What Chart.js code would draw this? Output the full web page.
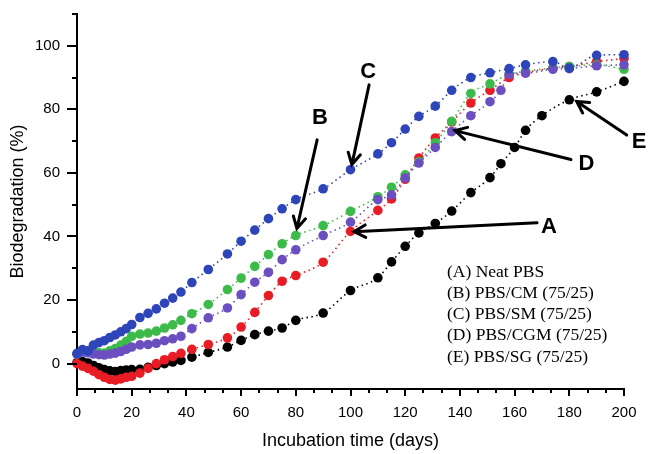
<!DOCTYPE html>
<html>
<head>
<meta charset="utf-8">
<script src="https://cdn.jsdelivr.net/npm/chart.js@4"></script>
<style>
  html, body { margin: 0; padding: 0; background: #fff; }
</style>
</head>
<body>
<canvas id="chart" width="649" height="454"></canvas>
<script>
// ---------- Data ----------
const days = [0, 2, 4, 6, 8, 10, 12, 14, 16, 18, 20, 23, 26, 29, 32, 35, 38, 42, 48, 55,
  60, 65, 70, 75, 80, 90, 100, 110, 115, 120, 125, 131, 137, 144, 151, 158, 164, 174, 180, 190, 200];
const daysD = [0, 2, 4, 6, 8, 10, 12, 14, 16, 18, 20, 23, 26, 29, 32, 35, 38, 42, 48, 55,
  60, 65, 70, 75, 80, 90, 100, 110, 115, 120, 125, 131, 137, 144, 151, 155, 158, 164, 174, 180, 190, 200];
const daysE = [0, 2, 4, 6, 8, 10, 12, 14, 16, 18, 20, 23, 26, 29, 32, 35, 38, 42, 48, 55,
  60, 65, 70, 75, 80, 90, 100, 110, 115, 120, 125, 131, 137, 144, 151, 155, 160, 164, 170, 180, 190, 200];

// (A) Neat PBS
const neatPBS = [0, -0.8, -1.5, -2.4, -3.5, -4.3, -5, -5.2, -4.8, -4.3, -4, -3, -1.5, 0, 1.2, 2.2, 3.2, 4.5, 6, 8.1,
  11.5, 16.1, 21.4, 25.9, 27.7, 31.9, 41.6, 48.2, 51.8, 58, 64.7, 71, 76, 82, 86, 90, 91.5, 93, 93.5, 95, 96];
// (B) PBS/CM
const pbsCM = [3, 3.8, 3.5, 3.6, 3.4, 3.3, 4, 4.7, 5.8, 7, 8.6, 9.3, 9.6, 10.2, 11.2, 12.2, 13.6, 15.7, 18.6, 23.3,
  26.9, 30.6, 34.3, 37.7, 40.3, 43.4, 47.9, 52.5, 55.5, 59.4, 63.5, 69.5, 76.2, 85, 88, 91, 92, 93, 93.5, 94, 92.6];
// (C) PBS/SM
const pbsSM = [3.2, 4.4, 4, 5.8, 6.6, 7.2, 8.2, 9, 10, 11, 12.3, 14.5, 15.8, 17.2, 19, 20.6, 22.5, 25.5, 29.6, 34.5,
  38.5, 42, 45.6, 48.7, 51.6, 55, 61, 66, 69.5, 73.8, 77.8, 81, 86, 90, 91.5, 92.8, 94, 95, 93, 97, 97.2];
// (D) PBS/CGM
const pbsCGM = [3, 3.6, 3.4, 3, 2.8, 2.7, 3, 3.3, 3.8, 4.5, 5.2, 5.9, 6, 6.4, 7.2, 7.8, 8.6, 11, 14.4, 17.5,
  21.7, 25.6, 28.7, 32.7, 35.8, 40.3, 44.5, 51.6, 53.1, 58.4, 63.1, 68, 73, 78, 82.4, 86, 91, 91.4, 92.6, 92.8, 93.7, 94];
// (E) PBS/SG
const pbsSG = [0.3, 0.6, 0.2, -0.6, -1.3, -1.9, -2.3, -2.5, -2.2, -2, -1.9, -1.8, -1.2, -0.6, 0, 0.5, 1, 2, 3.5, 5.2,
  7.3, 9.1, 10.2, 11.2, 13.6, 15.9, 23, 27, 32, 36.9, 41.1, 44.1, 48, 53.8, 58.5, 62.9, 68, 73.4, 78, 83, 85.5, 88.8];

const legendLines = ["(A) Neat PBS", "(B) PBS/CM (75/25)", "(C) PBS/SM (75/25)",
  "(D) PBS/CGM (75/25)", "(E) PBS/SG (75/25)"];

// arrow call-outs, in data units: [label x, label y], [tail x, tail y], [tip x, tip y]
const callouts = [
  { text: "A", label: [172.6, 43.1], tail: [168.2, 44.3], tip: [101.3, 41.5] },
  { text: "B", label: [88.8, 77.4], tail: [87.8, 70.4], tip: [80.4, 42.5] },
  { text: "C", label: [106.5, 91.9], tail: [106.8, 87.7], tip: [100.5, 62.6] },
  { text: "D", label: [186.3, 62.8], tail: [180.6, 64.2], tip: [138.2, 73.3] },
  { text: "E", label: [205.5, 69.8], tail: [201.0, 71.9], tip: [182.7, 82.5] },
];

const xTickValues = Array.from({ length: 31 }, (_, i) => i * 20 / 3);
const yTickValues = [0, 10, 20, 30, 40, 50, 60, 70, 80, 90, 100, 110];

// ---------- Helpers ----------
function pts(xs, ys) {
  return xs.map((x, i) => ({ x: x, y: ys[i] }));
}

function isMajor(v, step) {
  const r = Math.round(v);
  return Math.abs(v - r) < 1e-6 && r % step === 0;
}

function series(label, xs, ys, color) {
  return {
    label: label,
    data: pts(xs, ys),
    borderColor: color,
    backgroundColor: color,
    pointBackgroundColor: color,
    pointBorderWidth: 0,
    pointRadius: 4.8,
    borderWidth: 1.6,
    borderDash: [1.5, 3.5],
    cubicInterpolationMode: "monotone",
    clip: false,
  };
}

// ---------- Plugins ----------
const tickMarks = {
  id: "tickMarks",
  afterDraw(chart) {
    const { ctx, chartArea: a, scales: { x, y } } = chart;
    ctx.save();
    ctx.strokeStyle = "#000";
    ctx.lineWidth = 2;
    x.ticks.forEach((t) => {
      const px = Math.round(x.getPixelForValue(t.value));
      ctx.beginPath();
      ctx.moveTo(px, a.bottom);
      ctx.lineTo(px, a.bottom + (isMajor(t.value, 20) ? 7 : 4));
      ctx.stroke();
    });
    y.ticks.forEach((t) => {
      const py = Math.round(y.getPixelForValue(t.value));
      ctx.beginPath();
      ctx.moveTo(a.left, py);
      ctx.lineTo(a.left - (isMajor(t.value, 20) && t.value <= 100 ? 10 : 5), py);
      ctx.stroke();
    });
    ctx.restore();
  },
};

const callout = {
  id: "callout",
  afterDatasetsDraw(chart) {
    const { ctx, scales: { x, y } } = chart;
    ctx.save();
    ctx.strokeStyle = "#000";
    ctx.fillStyle = "#000";
    ctx.lineWidth = 3;
    ctx.lineCap = "round";
    callouts.forEach((c) => {
      const tx = x.getPixelForValue(c.tail[0]), ty = y.getPixelForValue(c.tail[1]);
      const hx = x.getPixelForValue(c.tip[0]), hy = y.getPixelForValue(c.tip[1]);
      ctx.beginPath();
      ctx.moveTo(tx, ty);
      ctx.lineTo(hx, hy);
      const ang = Math.atan2(ty - hy, tx - hx);
      const len = 13, spread = 0.5;
      ctx.moveTo(hx + len * Math.cos(ang - spread), hy + len * Math.sin(ang - spread));
      ctx.lineTo(hx, hy);
      ctx.lineTo(hx + len * Math.cos(ang + spread), hy + len * Math.sin(ang + spread));
      ctx.stroke();
      ctx.font = "bold 22px 'Liberation Sans', Arial, sans-serif";
      ctx.textAlign = "center";
      ctx.textBaseline = "middle";
      ctx.fillText(c.text, x.getPixelForValue(c.label[0]), y.getPixelForValue(c.label[1]));
    });
    ctx.restore();
  },
};

const textLegend = {
  id: "textLegend",
  afterDraw(chart) {
    const { ctx, chartArea: a } = chart;
    ctx.save();
    ctx.fillStyle = "#000";
    ctx.font = "17.5px 'Liberation Serif', 'Times New Roman', serif";
    ctx.textAlign = "left";
    ctx.textBaseline = "middle";
    legendLines.forEach((s, i) => {
      ctx.fillText(s, a.left + 370, a.top + 258 + i * 21.3);
    });
    ctx.restore();
  },
};

// ---------- Chart ----------
const ctx = document.getElementById("chart").getContext("2d");
new Chart(ctx, {
  type: "line",
  data: {
    datasets: [
      series("(C) PBS/SM (75/25)", days, pbsSM, "#2d45b8"),
      series("(D) PBS/CGM (75/25)", daysD, pbsCGM, "#6b4fc0"),
      series("(B) PBS/CM (75/25)", days, pbsCM, "#3cba4a"),
      series("(A) Neat PBS", days, neatPBS, "#e81c24"),
      series("(E) PBS/SG (75/25)", daysE, pbsSG, "#000000"),
    ],
  },
  options: {
    responsive: false,
    animation: false,
    layout: { padding: { left: 0, right: 25, top: 14, bottom: 0 } },
    plugins: {
      legend: { display: false },
      tooltip: { enabled: false },
    },
    scales: {
      x: {
        type: "linear",
        min: 0,
        max: 200,
        afterBuildTicks: (s) => { s.ticks = xTickValues.map((v) => ({ value: v })); },
        afterFit: (s) => { s.height = 65; s.paddingLeft = 0; s.paddingRight = 0; },
        grid: { display: false, drawTicks: false },
        border: { display: true, color: "#000", width: 2 },
        ticks: {
          autoSkip: false,
          maxRotation: 0,
          padding: 15,
          color: "#000",
          font: { family: "'Liberation Sans', Arial, sans-serif", size: 15 },
          callback: (v) => (isMajor(v, 20) ? Math.round(v) : ""),
        },
        title: {
          display: true,
          text: "Incubation time (days)",
          color: "#000",
          font: { family: "'Liberation Sans', Arial, sans-serif", size: 18 },
          padding: { top: 0, bottom: 2 },
        },
      },
      y: {
        min: -8,
        max: 110,
        afterBuildTicks: (s) => { s.ticks = yTickValues.map((v) => ({ value: v })); },
        afterFit: (s) => { s.width = 77; s.paddingTop = 0; s.paddingBottom = 0; },
        grid: { display: false, drawTicks: false },
        border: { display: true, color: "#000", width: 2 },
        ticks: {
          padding: 17,
          color: "#000",
          font: { family: "'Liberation Sans', Arial, sans-serif", size: 15 },
          callback: (v) => (v % 20 === 0 && v <= 100 ? v : ""),
        },
        title: {
          display: true,
          text: "Biodegradation (%)",
          color: "#000",
          font: { family: "'Liberation Sans', Arial, sans-serif", size: 18 },
          padding: { top: 7, bottom: 0 },
        },
      },
    },
  },
  plugins: [tickMarks, callout, textLegend],
});
</script>
</body>
</html>
